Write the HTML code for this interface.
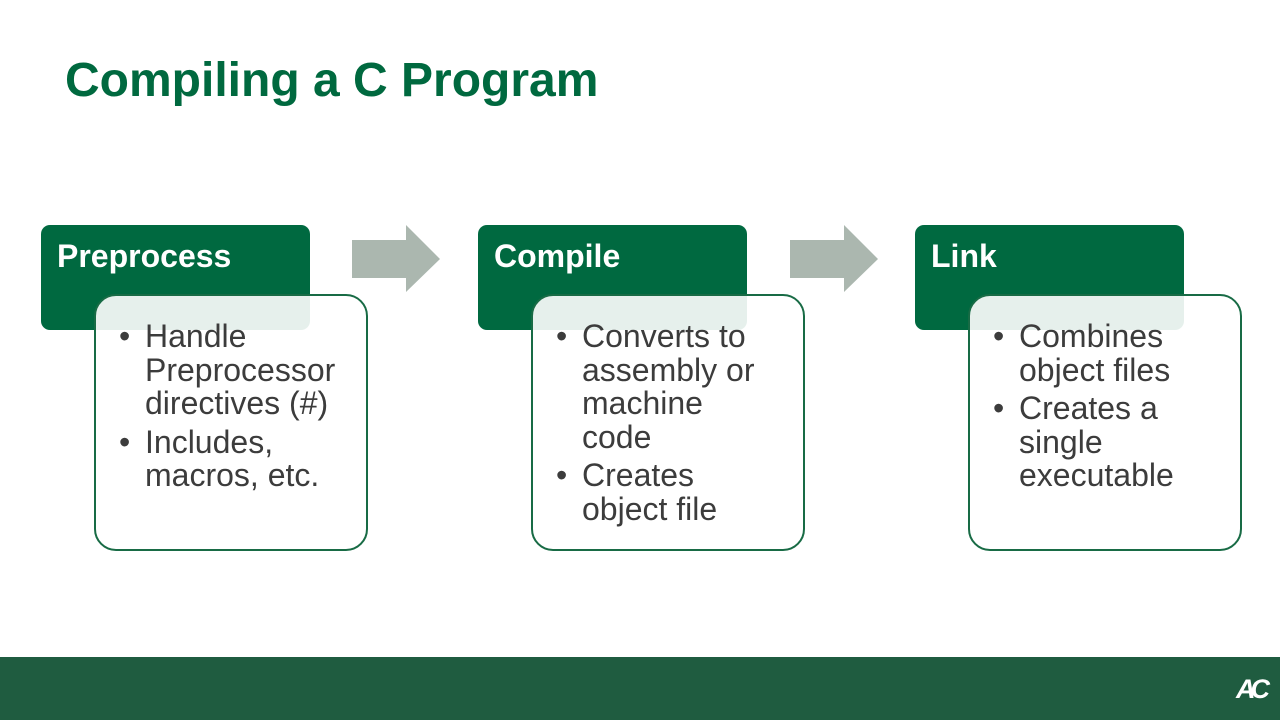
<!DOCTYPE html>
<html><head><meta charset="utf-8"><style>
body{margin:0;width:1280px;height:720px;position:relative;background:#fff;font-family:"Liberation Sans",Arial,sans-serif;overflow:hidden}
.t{position:absolute;left:65px;top:53px;font-size:48px;font-weight:bold;color:#00693f;margin:0;line-height:56px}
.h{position:absolute;width:269px;height:105px;top:225px;background:#006940;border-radius:9px}
.h span{position:absolute;left:16px;top:12px;color:#fff;font-weight:bold;font-size:32px;line-height:38px}
.b{position:absolute;width:270px;height:253px;top:294px;border:2px solid #186b45;border-radius:22px;background:rgba(255,255,255,0.9)}
ul{position:absolute;margin:0;padding:0;list-style:none;left:23px;top:24px;font-size:32px;line-height:33.5px;color:#3c3c3c;white-space:nowrap}
li{position:relative;padding-left:26px;margin-bottom:5px}
li:before{content:"•";position:absolute;left:0;top:0;font-size:32px}
.a{position:absolute;top:225px}
.f{position:absolute;left:0;top:657px;width:1280px;height:63px;background:#1f5c40}
.logo{position:absolute;left:1236px;top:674px;color:#fff;font-weight:bold;font-size:27px;letter-spacing:-5px;font-style:italic}
</style></head><body>
<h1 class="t">Compiling a C Program</h1>

<div class="h" style="left:41px"><span>Preprocess</span></div>
<div class="b" style="left:94px"><ul><li>Handle<br>Preprocessor<br>directives (#)</li><li>Includes,<br>macros, etc.</li></ul></div>

<div class="h" style="left:478px"><span>Compile</span></div>
<div class="b" style="left:531px"><ul><li>Converts to<br>assembly or<br>machine<br>code</li><li>Creates<br>object file</li></ul></div>

<div class="h" style="left:915px"><span>Link</span></div>
<div class="b" style="left:968px"><ul><li>Combines<br>object files</li><li>Creates a<br>single<br>executable</li></ul></div>

<svg class="a" style="left:352px" width="90" height="68"><polygon points="0,15 54,15 54,0 88,34 54,67 54,53 0,53" fill="#abb7af"/></svg>
<svg class="a" style="left:790px" width="90" height="68"><polygon points="0,15 54,15 54,0 88,34 54,67 54,53 0,53" fill="#abb7af"/></svg>

<div class="f"></div>
<div class="logo">AC</div>
</body></html>
